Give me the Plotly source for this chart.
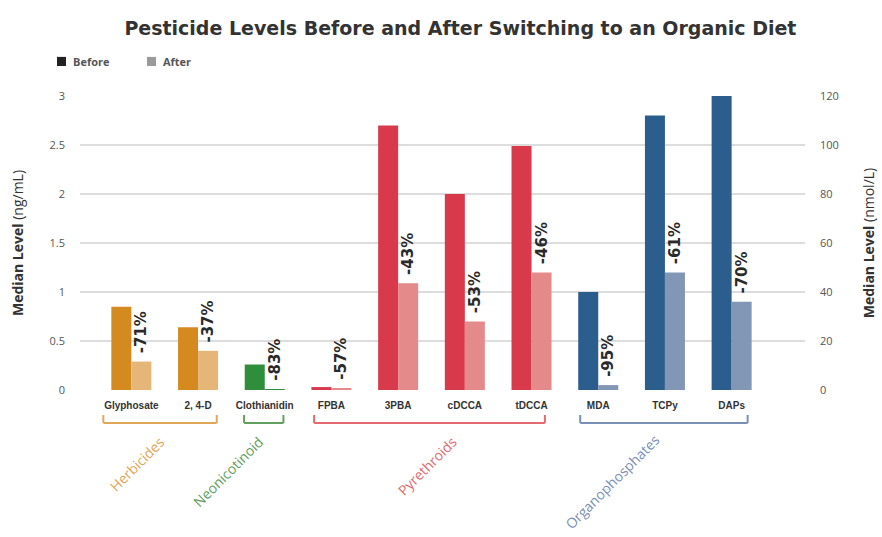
import plotly.graph_objects as go

categories = ["Glyphosate", "2, 4-D", "Clothianidin", "FPBA", "3PBA", "cDCCA", "tDCCA", "MDA", "TCPy", "DAPs"]

# Left axis (ng/mL): herbicides, neonicotinoid, pyrethroids
left_cats = categories[:7]
left_before = [0.85, 0.64, 0.26, 0.03, 2.70, 2.00, 2.49]
left_after = [0.29, 0.40, 0.005, 0.013, 1.09, 0.70, 1.20]
left_change = ["-71%", "-37%", "-83%", "-57%", "-43%", "-53%", "-46%"]

# Right axis (nmol/L): organophosphates
right_cats = categories[7:]
right_before = [40, 112, 120]
right_after = [2, 48, 36]
right_change = ["-95%", "-61%", "-70%"]

groups = ["Herbicides", "Neonicotinoid", "Pyrethroids", "Organophosphates"]
series_names = ["Before", "After"]

left_ticks = [0, 0.5, 1, 1.5, 2, 2.5, 3]
left_ticktext = ["0", "0.5", "1", "1.5", "2", "2.5", "3"]
right_ticks = [0, 20, 40, 60, 80, 100, 120]

# styles
group_before_col = ["#D58A1F", "#2F8E3B", "#D83A4B", "#2B5E8C"]
group_after_col = ["#E6B679", "#2F8E3B", "#E58A8B", "#8197B5"]
group_label_col = ["#E0A65A", "#5FA060", "#E26A70", "#7A8FB8"]
legend_col = ["#222222", "#9a9a9a"]
left_group_idx = [0, 0, 1, 2, 2, 2, 2]
right_group_idx = [3, 3, 3]

BW = 0.3
pct_font = dict(family="DejaVu Sans", size=15, color="#2a2a2a", weight="bold")

fig = go.Figure()
fig.add_trace(go.Bar(x=left_cats, y=left_before, yaxis="y", width=BW, offset=-BW, name="Before",
                     marker=dict(color=[group_before_col[g] for g in left_group_idx], line_width=0),
                     showlegend=False))
fig.add_trace(go.Bar(x=left_cats, y=left_after, yaxis="y", width=BW, offset=0, name="After",
                     marker=dict(color=[group_after_col[g] for g in left_group_idx], line_width=0),
                     text=[" " + t for t in left_change], textposition="outside", textangle=-90,
                     textfont=pct_font, constraintext="none", cliponaxis=False, showlegend=False))
fig.add_trace(go.Bar(x=right_cats, y=right_before, yaxis="y2", width=BW, offset=-BW, name="Before",
                     marker=dict(color=[group_before_col[g] for g in right_group_idx], line_width=0),
                     showlegend=False))
fig.add_trace(go.Bar(x=right_cats, y=right_after, yaxis="y2", width=BW, offset=0, name="After",
                     marker=dict(color=[group_after_col[g] for g in right_group_idx], line_width=0),
                     text=[" " + t for t in right_change], textposition="outside", textangle=-90,
                     textfont=pct_font, constraintext="none", cliponaxis=False, showlegend=False))

shapes = []
annotations = []

# manual legend (top-left)
legend_x = [-0.0317, 0.0924]
for name, col, lx in zip(series_names, legend_col, legend_x):
    shapes.append(dict(type="rect", xref="paper", yref="paper", x0=lx, x1=lx + 0.0124,
                       y0=1.102, y1=1.133, fillcolor=col, line_width=0))
    annotations.append(dict(text=name, x=lx + 0.019, y=1.117, xref="paper", yref="paper",
                            showarrow=False, xanchor="left", yanchor="middle",
                            font=dict(family="Open Sans", size=11, color="#555555", weight="bold")))

# group brackets and labels
bracket_span = {"Herbicides": (-0.42, 1.28), "Neonicotinoid": (1.69, 2.28),
                "Pyrethroids": (2.74, 6.2), "Organophosphates": (6.73, 9.24)}
label_pos = {"Herbicides": (0.09, -0.25), "Neonicotinoid": (1.45, -0.277),
             "Pyrethroids": (4.44, -0.256), "Organophosphates": (7.21, -0.31)}
yb, yt = -0.112, -0.085
for gi, g in enumerate(groups):
    x0, x1 = bracket_span[g]
    col = group_label_col[gi]
    for (xa, ya, xb, yb2) in [(x0, yb, x1, yb), (x0, yb, x0, yt), (x1, yb, x1, yt)]:
        shapes.append(dict(type="line", xref="x", yref="paper", x0=xa, x1=xb, y0=ya, y1=yb2,
                           line=dict(color=col, width=2)))
    lx, ly = label_pos[g]
    annotations.append(dict(text=g, x=lx, y=ly, xref="x", yref="paper", showarrow=False,
                            textangle=-45, xanchor="center", yanchor="middle",
                            font=dict(family="Open Sans", size=14, color=col)))

fig.update_layout(
    width=882, height=537,
    margin=dict(l=80, r=77, t=96, b=147),
    paper_bgcolor="white", plot_bgcolor="white",
    barmode="overlay",
    showlegend=False,
    title=dict(text="<b>Pesticide Levels Before and After Switching to an Organic Diet</b>",
               x=0.522, xanchor="center", y=0.948, yanchor="middle",
               font=dict(family="DejaVu Sans", size=19, color="#333333")),
    xaxis=dict(categoryorder="array", categoryarray=categories, range=[-0.77, 10.1],
               showgrid=False, zeroline=False, showline=False, ticks="", automargin=False,
               ticklabelstandoff=8,
               tickfont=dict(family="Liberation Sans", size=10, color="#333333", weight="bold")),
    yaxis=dict(range=[0, 3], tickvals=left_ticks, ticktext=left_ticktext, automargin=False,
               showgrid=True, gridcolor="#dddddd", gridwidth=2, zeroline=False,
               showline=False, ticks="", ticklabelstandoff=14,
               tickfont=dict(family="Open Sans", size=11, color="#555555"),
               title=dict(text="<b>Median Level</b> (ng/mL)", standoff=22,
                          font=dict(family="Open Sans", size=14, color="#333333"))),
    yaxis2=dict(range=[0, 120], tickvals=right_ticks, overlaying="y", side="right",
                automargin=False,
                showgrid=False, zeroline=False, showline=False, ticks="", ticklabelstandoff=14,
                tickfont=dict(family="Open Sans", size=11, color="#555555"),
                title=dict(text="<b>Median Level</b> (nmol/L)", standoff=26,
                           font=dict(family="Open Sans", size=14, color="#333333"))),
    shapes=shapes,
    annotations=annotations,
)

fig.write_html("out.html", config={"displayModeBar": False},
               post_script="document.body.style.margin='0';")
